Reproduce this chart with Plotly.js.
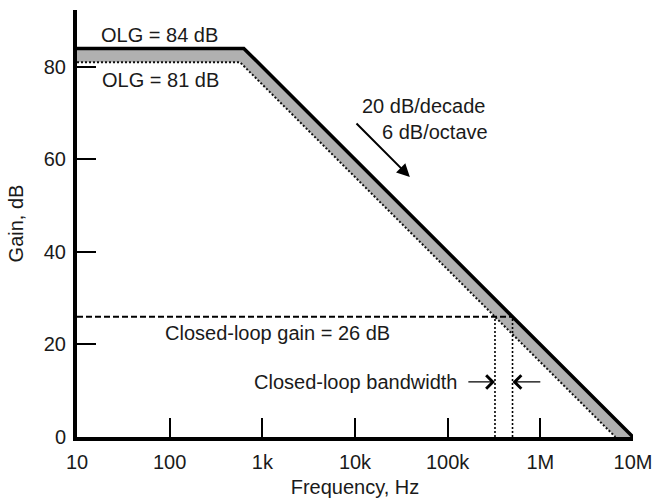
<!DOCTYPE html>
<html>
<head>
<meta charset="utf-8">
<script src="https://cdn.plot.ly/plotly-3.0.1.min.js"></script>
<style>html,body{margin:0;padding:0;background:#fff;}#chart{width:654px;height:501px;}</style>
</head>
<body>
<div id="chart"></div>
<script>
// Open-loop gain curves (Hz, dB)
var freq84 = [10, 631, 1e7];
var gain84 = [84, 84, 0];
var freq81 = [10, 575, 6.46e6];
var gain81 = [81, 81, 0];
// Closed-loop gain line
var clGain = 26;
var clFreq84 = 501000;
var clFreq81 = 324000;
var clLineX = [10, clFreq84];
var clLineY = [clGain, clGain];
// Axis ticks
var xTickVals = [10, 100, 1000, 1e4, 1e5, 1e6, 1e7];
var xTickText = ["10", "100", "1k", "10k", "100k", "1M", "10M"];
var yTickVals = [0, 20, 40, 60, 80];

var FONT = "Liberation Sans, Arial, Helvetica, sans-serif";
var TXT = "#1a1a1a";
var FS = 20;

var traces = [
  {x: freq81, y: gain81, mode: "lines", line: {color: "#111", width: 2, dash: "2px,2px"}, hoverinfo: "skip"},
  {x: freq84, y: gain84, mode: "lines", fill: "tonexty", fillcolor: "#b0b0b0", line: {color: "#000", width: 3.5}, hoverinfo: "skip"},
  {x: clLineX, y: clLineY, mode: "lines", line: {color: "#000", width: 2, dash: "6px,3px"}, hoverinfo: "skip"},
  {x: [clFreq81, clFreq81], y: [0, clGain], mode: "lines", line: {color: "#000", width: 1.6, dash: "2px,2px"}, hoverinfo: "skip"},
  {x: [clFreq84, clFreq84], y: [0, clGain], mode: "lines", line: {color: "#000", width: 1.6, dash: "2px,2px"}, hoverinfo: "skip"}
];

function lx(f){ return Math.log10(f); }

var layout = {
  width: 654, height: 501,
  margin: {l: 77, r: 21, t: 10, b: 64},
  paper_bgcolor: "#fff", plot_bgcolor: "#fff",
  showlegend: false,
  font: {family: FONT, size: FS, color: TXT},
  xaxis: {
    type: "log", range: [1, 7],
    tickvals: xTickVals, ticktext: xTickText,
    ticks: "inside", ticklen: 19, tickwidth: 2, tickcolor: "#000",
    ticklabelstandoff: 4,
    showline: true, linewidth: 4, linecolor: "#000",
    showgrid: false, zeroline: false,
    tickfont: {family: FONT, size: FS, color: TXT},
    title: {text: "Frequency, Hz", font: {family: FONT, size: FS, color: TXT}, standoff: 9}
  },
  yaxis: {
    range: [0, 92.3],
    tickvals: yTickVals,
    ticks: "inside", ticklen: 19, tickwidth: 2, tickcolor: "#000",
    ticklabelstandoff: 3,
    showline: true, linewidth: 4, linecolor: "#000",
    showgrid: false, zeroline: false,
    tickfont: {family: FONT, size: FS, color: TXT},
    title: {text: "Gain, dB", font: {family: FONT, size: FS, color: TXT}, standoff: 16}
  },
  annotations: [
    {xref: "x", yref: "y", x: 1.895, y: 86.9, text: "OLG = 84 dB", showarrow: false, font: {size: FS}},
    {xref: "x", yref: "y", x: 1.906, y: 77.2, text: "OLG = 81 dB", showarrow: false, font: {size: FS}},
    {xref: "x", yref: "y", x: 5.42, y: 71.6, text: "20 dB/decade", showarrow: false, xanchor: "right", font: {size: FS}},
    {xref: "x", yref: "y", x: 5.455, y: 65.9, text: "6 dB/octave", showarrow: false, xanchor: "right", font: {size: FS}},
    {xref: "x", yref: "y", axref: "x", ayref: "y", x: 4.592, y: 56.2, ax: 4.0, ay: 68.1, text: "", showarrow: true, arrowhead: 2, arrowsize: 1.3, arrowwidth: 2, arrowcolor: "#000"},
    {xref: "x", yref: "y", x: 3.168, y: 22.5, text: "Closed-loop gain = 26 dB", showarrow: false, font: {size: FS}},
    {xref: "x", yref: "y", x: 4.0, y: 11.9, text: "Closed-loop bandwidth", showarrow: false, font: {size: FS}},
    {xref: "x", yref: "y", axref: "x", ayref: "y", x: lx(clFreq81), y: 11.9, ax: 5.207, ay: 11.9, text: "", showarrow: true, arrowhead: 4, arrowsize: 2.0, arrowwidth: 1.3, arrowcolor: "#000"},
    {xref: "x", yref: "y", axref: "x", ayref: "y", x: lx(clFreq84), y: 11.9, ax: 6.016, ay: 11.9, text: "", showarrow: true, arrowhead: 4, arrowsize: 2.0, arrowwidth: 1.3, arrowcolor: "#000"}
  ]
};

Plotly.newPlot("chart", traces, layout, {staticPlot: true, displayModeBar: false});
</script>
</body>
</html>
